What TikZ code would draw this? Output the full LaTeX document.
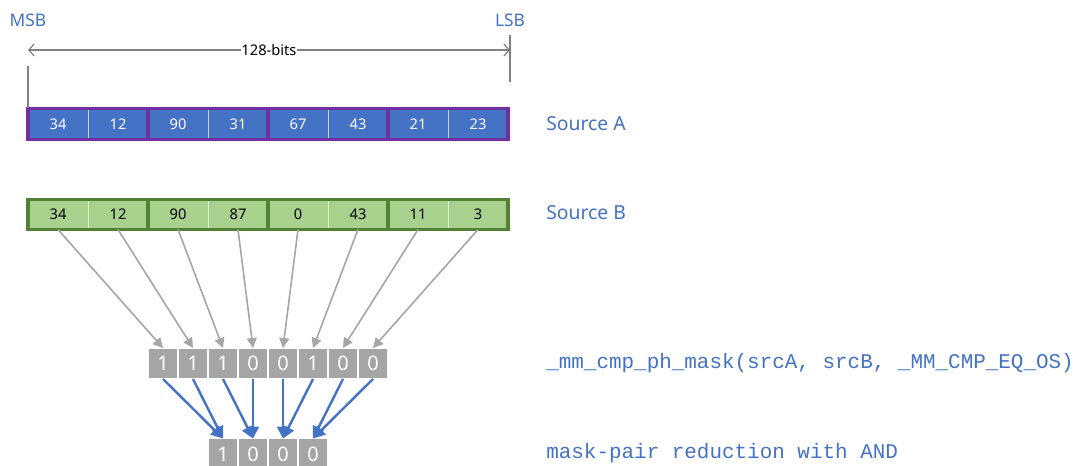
\documentclass[tikz,border=0pt]{standalone}
\usepackage{fontspec}
\setmainfont{Noto Sans}
\newfontfamily\codefont{Liberation Mono}
\usetikzlibrary{arrows.meta,positioning}
\definecolor{srcblue}{RGB}{68,114,196}
\definecolor{pairpurple}{RGB}{112,48,160}
\definecolor{srcgreen}{RGB}{169,209,142}
\definecolor{pairgreen}{RGB}{84,130,53}
\definecolor{maskgray}{RGB}{165,165,165}
\definecolor{arrowgray}{RGB}{166,166,166}
\definecolor{dimgray}{RGB}{128,128,128}

\begin{document}
\begin{tikzpicture}[x=0.75pt, y=-0.75pt,
  cellA/.style={fill=srcblue, draw=white!70!srcblue, line width=0.6pt, minimum width=45pt,
    minimum height=23.5pt, inner sep=0pt, outer sep=0pt, text=white, font=\fontsize{11}{13}\selectfont},
  cellB/.style={cellA, fill=srcgreen, draw=white!60!srcgreen, text=black, minimum height=22.5pt},
  pairA/.style={draw=pairpurple, line width=2.3pt},
  pairB/.style={draw=pairgreen, line width=2.3pt},
  maskbit/.style={fill=maskgray, draw=white, line width=1.2pt, minimum width=22.5pt,
    minimum height=23.25pt, inner sep=0pt, outer sep=0pt, text=white, font=\fontsize{15}{17}\selectfont},
  lbl/.style={text=srcblue, anchor=west, inner sep=0pt},
  cmpline/.style={draw=arrowgray, line width=1.2pt, -{Triangle[length=7.5pt,width=7.5pt]}},
  andline/.style={draw=srcblue, line width=1.8pt, -{Triangle[length=9pt,width=9pt]}},
  dimline/.style={draw=dimgray, line width=0.9pt, -{Straight Barb[length=4pt,width=9pt]}},
]
  \useasboundingbox (0,0) rectangle (1077,466);

  % Source A lanes
  \foreach \v [count=\i from 0] in {34,12,90,31,67,43,21,23}{
    \node[cellA] (a\i) at ({58+60*\i},124) {\v};
  }
  \foreach \p/\q in {0/1,2/3,4/5,6/7}{
    \draw[pairA] (a\p.north west) rectangle (a\q.south east);
  }

  % Source B lanes
  \foreach \v [count=\i from 0] in {34,12,90,87,0,43,11,3}{
    \node[cellB] (b\i) at ({58+60*\i},214.5) {\v};
  }
  \foreach \p/\q in {0/1,2/3,4/5,6/7}{
    \draw[pairB] (b\p.north west) rectangle (b\q.south east);
  }

  % Compare mask (one bit per lane)
  \foreach \v [count=\i from 0] in {1,1,1,0,0,1,0,0}{
    \node[maskbit] (m\i) at ({163+30*\i},363.5) {\v};
    \draw[cmpline] (b\i.south) -- (m\i.north);
  }

  % Reduced mask (AND of each pair)
  \foreach \v [count=\k from 0] in {1,0,0,0}{
    \node[maskbit] (r\k) at ({223+30*\k},454) {\v};
  }
  \foreach \i/\k in {0/0,1/0,2/1,3/1,4/2,5/2,6/3,7/3}{
    \draw[andline] (m\i.south) -- (r\k.north);
  }

  % Width marker
  \node[text=srcblue, font=\fontsize{13}{15}\selectfont] (msb) at (28,20) {MSB};
  \node[text=srcblue, font=\fontsize{13}{15}\selectfont] (lsb) at (510,20) {LSB};
  \coordinate (dimL) at (28,50);
  \coordinate (dimR) at (510,50);
  \node[fill=white, inner sep=0.5pt, font=\fontsize{11}{13}\selectfont] (bits) at (269,50) {128-bits};
  \draw[dimline] (bits.west) -- (dimL);
  \draw[dimline] (bits.east) -- (dimR);
  \coordinate (tickL) at (28,66);
  \coordinate (tickRa) at (510,35);
  \coordinate (tickRb) at (510,82);
  \draw[dimgray, line width=0.9pt] (tickL) -- (a0.north west);
  \draw[dimgray, line width=0.9pt] (tickRa) -- (tickRb);

  % Row labels
  \node[lbl, font=\fontsize{14.5}{17}\selectfont] (srcA) at (546,124) {Source A};
  \node[lbl, font=\fontsize{14.5}{17}\selectfont] (srcB) at (546,213) {Source B};
  \node[lbl, font=\codefont\fontsize{15.7}{18}\selectfont] (cmp) at (546,363) {\_mm\_cmp\_ph\_mask(srcA, srcB, \_MM\_CMP\_EQ\_OS)};
  \node[lbl, font=\codefont\fontsize{15.7}{18}\selectfont] (red) at (546,453) {mask-pair reduction with AND};
\end{tikzpicture}
\end{document}
